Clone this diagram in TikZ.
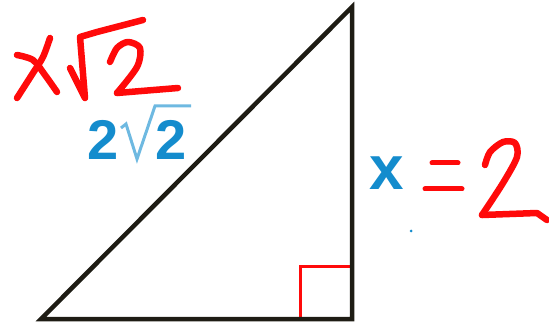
\documentclass[tikz,border=0pt]{standalone}
\usepackage{fontspec}
\setsansfont{Liberation Sans}
\definecolor{penred}{RGB}{255,10,10}
\definecolor{bookblue}{RGB}{20,140,205}
\definecolor{rootblue}{RGB}{110,185,225}
\tikzset{
  pen/.style={penred, line width=6.5pt, line cap=round, line join=round},
  booktext/.style={text=bookblue, inner sep=0pt, font=\sffamily\bfseries\fontsize{56}{56}\selectfont}
}
\begin{document}
\begin{tikzpicture}[x=1pt,y=-1pt]
            % Fix the page size
            \useasboundingbox (0,0) rectangle (549,323);

            % Define the coordinates for the triangle
            \coordinate (A) at (41,319);
            \coordinate (B) at (352,319);
            \coordinate (C) at (352,7);

            % Draw the right angle mark
            \draw[penred, line width=3pt] (300,319) -- (300,267) -- (352,267);

            % Draw the triangle
            \draw[line width=4.5pt, color={rgb,255:red,30;green,28;blue,20}] (A) -- (B) -- (C) -- cycle;

            % Add the printed labels
            \node[booktext, anchor=base west] (hyp) at (87,160) {2};
            \node[booktext, anchor=base west] (hyproot) at (155,160) {2};
            \draw[rootblue, line width=3pt] (121,128) -- (126,124) -- (137,159) -- (155,106) -- (191,106);
            \node[booktext, font=\sffamily\bfseries\fontsize{62}{62}\selectfont, anchor=base] (leg) at (387,190) {x};
            \fill[bookblue] (411,231) circle (1.5pt);

            % Handwritten x sqrt 2
            \draw[pen] plot[smooth] coordinates {(17,55) (33,60) (45,75) (57,92)};
            \draw[pen] plot[smooth] coordinates {(50,38) (43,57) (33,73) (17,98)};
            \draw[pen] (70,68) -- (85,98) -- (80,37) -- (97,32) -- (143,20);
            \draw[pen] plot[smooth] coordinates {(110,62) (117,48) (128,42) (140,48) (137,67) (117,93)};
            \draw[pen] (117,93) -- (178,88);

            % Handwritten = 2
            \draw[pen, line width=5pt] (432,163) -- (458,163);
            \draw[pen, line width=5pt] (425,189) -- (462,189);
            \draw[pen] plot[smooth] coordinates {(485,165) (490,152) (503,142) (515,143) (517,157) (503,183) (482,215)};
            \draw[pen] (482,215) -- (537,213) -- (547,220);

        \end{tikzpicture}
\end{document}
